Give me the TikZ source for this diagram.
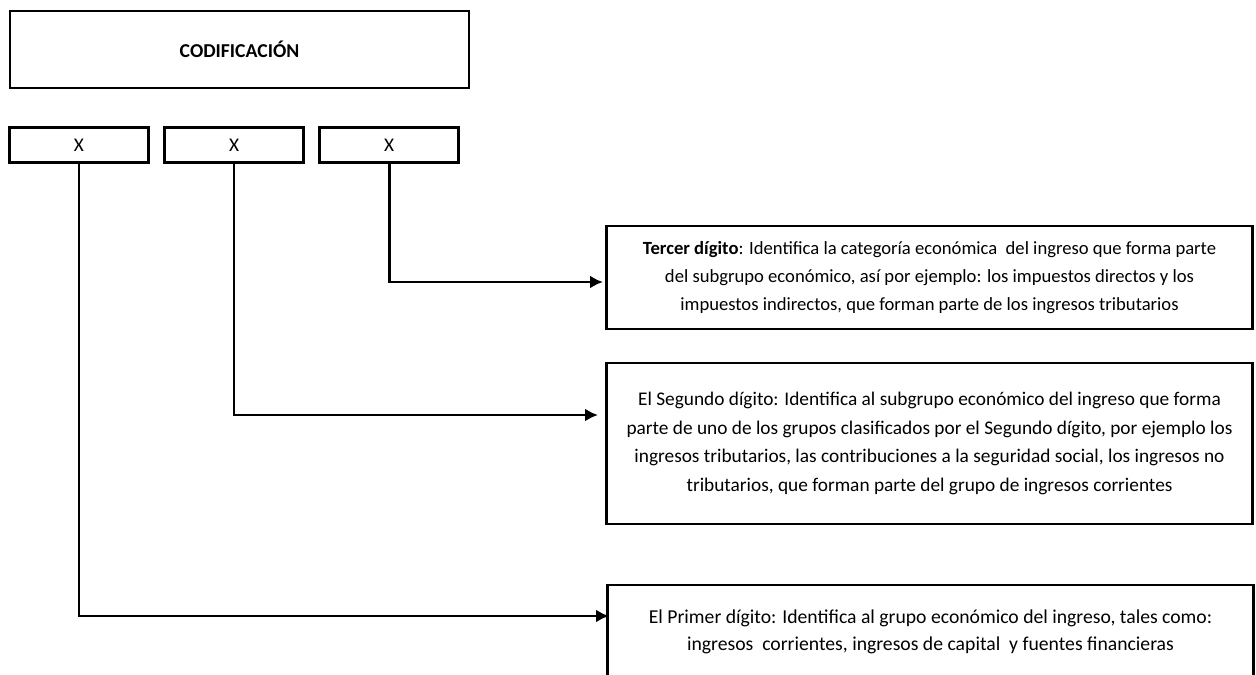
\documentclass[tikz,border=0pt]{standalone}
\usepackage{fontspec}
\setmainfont{Carlito}
\usetikzlibrary{shapes,arrows,arrows.meta,fit,calc,positioning}

\begin{document}
\begin{tikzpicture}[x=0.02cm,y=-0.02cm,
caja/.style={draw,line width=1.5pt,fill=white,inner sep=0pt},
desc/.style={caja,minimum width=12.92cm,align=center},
digito/.style={caja,minimum width=2.78cm,minimum height=0.7cm,font=\fontsize{11}{13}\selectfont},
flecha/.style={line width=1.5pt,-{Latex[length=0.26cm,width=0.26cm]}}]

\clip (0,0) rectangle (1256,675);

\node[caja,minimum width=9.18cm,minimum height=1.54cm,font=\bfseries\fontsize{11.2}{13}\selectfont] (cod) at (239.5,49.5) {CODIFICACIÓN};

\node[digito] (d1) at (79,145) {X};
\node[digito,right=0.27cm of d1] (d2) {X};
\node[digito,right=0.27cm of d2] (d3) {X};

\node[desc,minimum height=2.06cm,font=\fontsize{10.6}{16}\selectfont] (tercer) at (929.5,277.5) {\textbf{Tercer dígito}: Identifica la categoría económica \ del ingreso que forma parte\\ del subgrupo económico, así por ejemplo: los impuestos directos y los\\ impuestos indirectos, que forman parte de los ingresos tributarios};

\node[desc,minimum height=3.22cm,font=\fontsize{11}{16.2}\selectfont] (segundo) at (929.5,443.5) {El Segundo dígito: Identifica al subgrupo económico del ingreso que forma\\ parte de uno de los grupos clasificados por el Segundo dígito, por ejemplo los\\ ingresos tributarios, las contribuciones a la seguridad social, los ingresos no\\ tributarios, que forman parte del grupo de ingresos corrientes};

\node[desc,minimum height=1.86cm,font=\fontsize{11.2}{15.4}\selectfont] (primer) at (930.5,631.5) {El Primer dígito: Identifica al grupo económico del ingreso, tales como:\\ ingresos \ corrientes, ingresos de capital \ y fuentes financieras};

% puntas de las flechas
\coordinate (p3) at (603,282);
\coordinate (p2) at (598,415);
\coordinate (p1) at (609,616);

\draw[flecha] (d3.south) |- (p3);
\draw[flecha] (d2.south) |- (p2);
\draw[flecha] (d1.south) |- (p1);

\end{tikzpicture}
\end{document}
